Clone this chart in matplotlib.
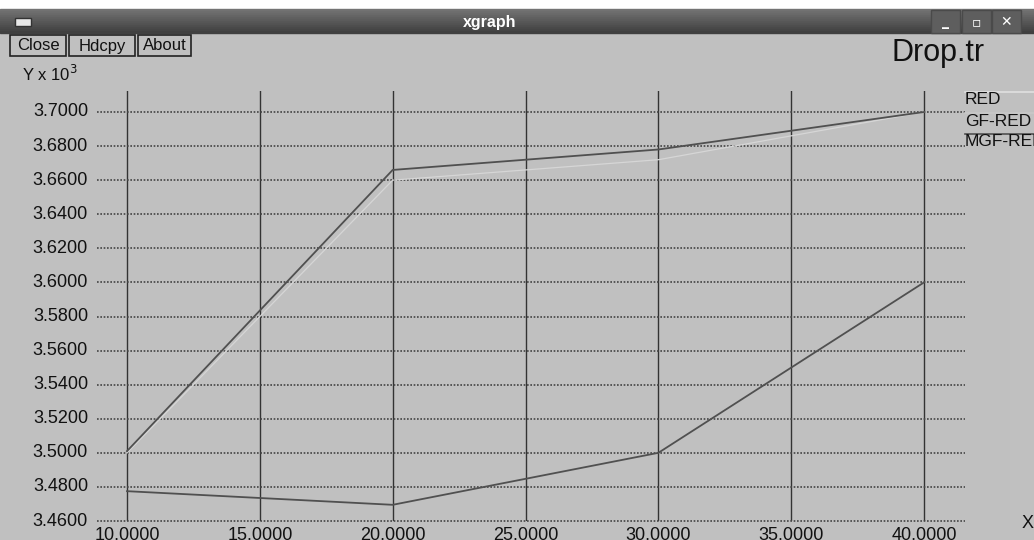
import matplotlib
matplotlib.use("Agg")
import matplotlib.pyplot as plt
from matplotlib.patches import Rectangle

plt.rcParams['font.family'] = ['Liberation Sans', 'DejaVu Sans']

# data
x_vals = [10, 20, 30, 40]
red = [3.5000, 3.6600, 3.6720, 3.7000]
gf_red = [3.5010, 3.6660, 3.6780, 3.7000]
mgf_red = [3.4775, 3.4695, 3.5000, 3.6000]
xticks = [10, 15, 20, 25, 30, 35, 40]
yticks = [3.46, 3.48, 3.50, 3.52, 3.54, 3.56, 3.58, 3.60, 3.62, 3.64, 3.66, 3.68, 3.70]

W, H = 1034, 540
BG = '#c0c0c0'

def fx(x):
    return x / W

def fy(y):
    return 1 - y / H

fig = plt.figure(figsize=(W / 100, H / 100), dpi=100)
fig.patch.set_facecolor('white')

# window body + title bar
fig.add_artist(Rectangle((0, 0), 1, fy(33), transform=fig.transFigure, color=BG, zorder=0))
for i in range(12):
    shade = 0.45 - i * 0.018
    fig.add_artist(Rectangle((0, fy(9 + (i + 1) * 2)), 1, 2 / H, transform=fig.transFigure,
                             color=(shade, shade, shade), zorder=0))
fig.add_artist(Rectangle((fx(15), fy(26)), 16 / W, 8 / H, transform=fig.transFigure,
                         facecolor='#e8e8e8', edgecolor='#333333', zorder=1))
fig.text(fx(490), fy(22), 'xgraph', color='white', fontsize=11.5, fontweight='bold',
         ha='center', va='center')
for bx, sym in [(945, '_'), (976, '▫'), (1006, '✕')]:
    fig.add_artist(Rectangle((fx(bx - 14), fy(33)), 29 / W, 23 / H, transform=fig.transFigure,
                             facecolor='#5e5e5e', edgecolor='#4a4a4a', zorder=1))
    fig.text(fx(bx), fy(22), sym, color='white', fontsize=10, fontweight='bold',
             ha='center', va='center', family=['DejaVu Sans'])

# buttons
for label, x0, x1 in [('Close', 10, 66), ('Hdcpy', 69, 135), ('About', 138, 191)]:
    fig.add_artist(Rectangle((fx(x0), fy(56)), (x1 - x0) / W, 21 / H, transform=fig.transFigure,
                             facecolor=BG, edgecolor='#222222', lw=1.2, zorder=1))
    fig.text(fx((x0 + x1) / 2), fy(46), label, fontsize=12, ha='center', va='center',
             color='#111111')

fig.text(fx(22), fy(74), 'Y x 10$^3$', fontsize=12, ha='left', va='center', color='#111111')
fig.text(fx(892), fy(53), 'Drop.tr', fontsize=22, ha='left', va='center', color='#111111')
fig.text(fx(1022), fy(524), 'X', fontsize=13, ha='left', va='center', color='#111111')

# plot area: x 97..965 px, y 91..521 px
px_per_x = (924 - 127) / 30
px_per_y = (521 - 112) / 0.24
xlo = 10 - (127 - 97) / px_per_x
xhi = 40 + (965 - 924) / px_per_x
yhi = 3.70 + (112 - 91) / px_per_y
ylo = 3.46

ax = fig.add_axes([fx(97), fy(521), (965 - 97) / W, (521 - 91) / H])
ax.set_facecolor(BG)
ax.patch.set_alpha(0)
ax.set_xlim(xlo, xhi)
ax.set_ylim(ylo, yhi)
for s in ax.spines.values():
    s.set_visible(False)
ax.set_xticks([])
ax.set_yticks([])

for xv in xticks:
    ax.axvline(xv, color='#333333', lw=1.0, zorder=1)
for yv in yticks:
    ax.axhline(yv, color='#444444', lw=1.2, ls=(0, (1, 1)), zorder=1, clip_on=False)

ax.plot(x_vals, red, color='#d6d6d6', lw=0.9, zorder=2)
ax.plot(x_vals, gf_red, color='#505050', lw=1.3, zorder=3)
ax.plot(x_vals, mgf_red, color='#505050', lw=1.3, zorder=3)

for yv in yticks:
    fig.text(fx(88), fy(521 - (yv - 3.46) * px_per_y), '%.4f' % yv, fontsize=13,
             ha='right', va='center', color='#111111')
for xv in xticks:
    fig.text(fx(127 + (xv - 10) * px_per_x), fy(535), '%.4f' % xv, fontsize=13,
             ha='center', va='center', color='#111111')

# legend at the right edge: line on top, label under it
for label, ly, col in [('RED', 92, '#e0e0e0'), ('GF-RED', 113, '#c8c8c8'), ('MGF-RED', 134, '#505050')]:
    fig.add_artist(plt.Line2D([fx(965), 1.0], [fy(ly), fy(ly)], transform=fig.transFigure,
                              color=col, lw=1.2))
    fig.text(fx(965), fy(ly + 8), label, fontsize=12.5, ha='left', va='center', color='#111111')

fig.savefig('out.png', dpi=100)
